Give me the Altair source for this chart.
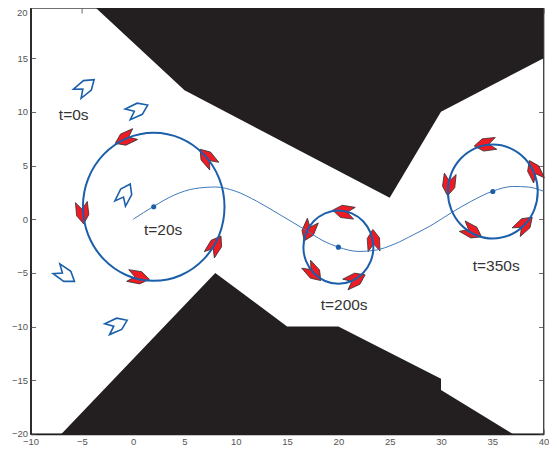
import altair as alt
import pandas as pd

X_DOM = [-10, 40]
Y_DOM = [-20, 19.67]
W, H = 513, 426
XT = [-10, -5, 0, 5, 10, 15, 20, 25, 30, 35, 40]
YT = [-20, -15, -10, -5, 0, 5, 10, 15]

top_x = [-4, 5, 25, 30, 40]
top_y = [20, 12, 2, 10, 15]
bot_x = [-7, 8, 15, 20, 30, 30, 37]
bot_y = [-20, -5, -10, -10, -14.85, -15.9, -20]

path_x = [0, 2, 4, 6, 8, 10, 12, 14.3, 16.8, 18.5, 20, 22, 23.5, 25.5, 27.3, 29, 31, 33, 35, 37, 38.5, 40]
path_y = [0, 1.2, 2.25, 2.85, 3.0, 2.6, 1.7, 0.42, -1, -2.0, -2.6, -3, -2.9, -2.3, -1.45, -0.6, 0.6, 1.7, 2.6, 3.05, 3.0, 2.6]

ring_cx = [2, 20, 35.05]
ring_cy = [1.16, -2.6, 2.58]
ring_r = [6.9, 3.41, 4.38]
unit_x = [1, .924, .707, .383, 0, -.383, -.707, -.924, -1, -.924, -.707, -.383, 0, .383, .707, .924]
unit_y = [0, .383, .707, .924, 1, .924, .707, .383, 0, -.383, -.707, -.924, -1, -.924, -.707, -.383]

blue_x = [-4.63, 0.44, -0.78, -6.6, -1.56]
blue_y = [12.34, 10.2, 2.37, -5.2, -9.82]
blue_a = [50, 65, 27, 125, 66]

red_x = [-0.78, 7.21, -4.94, 0.52, 7.99, 20.5, 23.42, 17.09, 17.57, 21.64, 34.3, 39.08, 30.77, 33.01, 38.11]
red_y = [7.5, 5.73, 0.58, -5.42, -2.44, 0.7, -1.97, -1.07, -4.95, -5.63, 6.94, 4.54, 3.21, -1.14, -0.51]
red_a = [245, 320, 174, 100, 32, 278, 357, 203, 138, 64, 263, 334, 187, 119, 47]

labels = ["t=0s", "t=20s", "t=200s", "t=350s"]
label_x = [-5.8, 2.92, 20.56, 35.38]
label_y = [9.73, -0.98, -7.96, -4.33]

ARROW = "M0,-0.5 L0.28,-0.1 L0.27,0.5 L0,0.17 L-0.27,0.5 L-0.28,-0.1 Z"
DARK = "#231f20"
BLUE = "#1b5faa"
ARROW_SIZE = 1936

xs = alt.Scale(domain=X_DOM, nice=False, zero=False)
ys = alt.Scale(domain=Y_DOM, nice=False, zero=False)


def X(f="x"):
    return alt.X(f, type="quantitative", scale=xs, axis=None)


def Y(f="y"):
    return alt.Y(f, type="quantitative", scale=ys, axis=None)


top_df = pd.DataFrame({"x": top_x, "y": top_y, "base": [20] * len(top_x)})
bot_df = pd.DataFrame({"x": bot_x, "y": bot_y, "base": [-20] * len(bot_x)})

top_area = alt.Chart(top_df).mark_area(color=DARK, clip=True, opacity=1).encode(
    x=X(), y=Y(), y2=alt.Y2("base"))
bot_area = alt.Chart(bot_df).mark_area(color=DARK, clip=True, opacity=1).encode(
    x=X(), y=Y(), y2=alt.Y2("base"))

path_df = pd.DataFrame({"x": path_x, "y": path_y, "o": list(range(len(path_x)))})
path_line = alt.Chart(path_df).mark_line(color="#3f78bb", strokeWidth=1, interpolate="monotone").encode(
    x=X(), y=Y(), order="o:Q")

rows = []
for i, (cx, cy, r) in enumerate(zip(ring_cx, ring_cy, ring_r)):
    for j, (ux, uy) in enumerate(zip(unit_x, unit_y)):
        rows.append({"x": cx + r * ux, "y": cy + r * uy, "ring": i, "o": j})
rings = alt.Chart(pd.DataFrame(rows)).mark_line(color=BLUE, strokeWidth=2, interpolate="cardinal-closed").encode(
    x=X(), y=Y(), detail="ring:N", order="o:Q")

centers = alt.Chart(pd.DataFrame({"x": ring_cx, "y": ring_cy})).mark_point(
    shape="circle", filled=True, color=BLUE, opacity=1, size=26).encode(x=X(), y=Y())

blue_df = pd.DataFrame({"x": blue_x, "y": blue_y, "a": blue_a})
blue = alt.Chart(blue_df).mark_point(shape=ARROW, size=ARROW_SIZE, fill="white", fillOpacity=1, stroke=BLUE,
                                     strokeOpacity=1, strokeWidth=1.6).encode(
    x=X(), y=Y(), angle=alt.Angle("a:Q", scale=None))

red_df = pd.DataFrame({"x": red_x, "y": red_y, "a": red_a})
red = alt.Chart(red_df).mark_point(shape=ARROW, size=ARROW_SIZE, fill="#ed1c24", fillOpacity=1, stroke="#3a3335",
                                   strokeOpacity=1, strokeWidth=0.8).encode(
    x=X(), y=Y(), angle=alt.Angle("a:Q", scale=None))

text_df = pd.DataFrame({"x": label_x, "y": label_y, "t": labels})
texts = alt.Chart(text_df).mark_text(font="Liberation Sans", fontSize=15.5, color="#333333").encode(
    x=X(), y=Y(), text="t:N")

top_label = alt.Chart(pd.DataFrame({"x": [-10], "y": [Y_DOM[1]], "t": ["20"]})).mark_text(
    font="Liberation Sans", fontSize=9.5, color="#555555", align="right", baseline="top", dx=-3, dy=0
).encode(x=X(), y=Y(), text="t:N")

main = alt.layer(top_area, bot_area, blue, red, path_line, rings, centers, texts, top_label)

tick = dict(grid=False, labels=False, title=None, tickSize=5, tickColor="#444444", tickWidth=0.8, domain=False)
lab = dict(labelFont="Liberation Sans", labelFontSize=9.5, labelColor="#555555", grid=False, title=None)
dummy = pd.DataFrame({"x": [0], "y": [0]})


def ind_scale(dom):
    return alt.Scale(domain=dom, nice=False, zero=False)


outer = alt.Chart(dummy).mark_point(opacity=0).encode(
    x=alt.X("x:Q", scale=ind_scale(X_DOM), title=None,
            axis=alt.Axis(orient="bottom", values=XT, ticks=False, labelPadding=3, domainColor=DARK,
                          domainWidth=1.6, labelOverlap=False, labelFlush=False, **lab)),
    y=alt.Y("y:Q", scale=ind_scale(Y_DOM), title=None,
            axis=alt.Axis(orient="left", values=YT, ticks=False, labelPadding=3, domainColor=DARK,
                          domainWidth=1.6, labelOverlap=False, labelFlush=False, **lab)))
inner_a = alt.Chart(dummy).mark_point(opacity=0).encode(
    x=alt.X("x:Q", scale=ind_scale(X_DOM), title=None,
            axis=alt.Axis(orient="top", offset=-H, values=XT, **tick)),
    y=alt.Y("y:Q", scale=ind_scale(Y_DOM), title=None,
            axis=alt.Axis(orient="right", offset=-W, values=YT, **tick)))
inner_b = alt.Chart(dummy).mark_point(opacity=0).encode(
    x=alt.X("x:Q", scale=ind_scale(X_DOM), title=None,
            axis=alt.Axis(orient="bottom", offset=-H, values=XT, **tick)),
    y=alt.Y("y:Q", scale=ind_scale(Y_DOM), title=None,
            axis=alt.Axis(orient="left", offset=-W, values=YT, **tick)))

chart = alt.layer(outer, inner_a, inner_b, main).resolve_scale(x="independent", y="independent").properties(
    width=W, height=H,
    padding={"left": 22.6, "top": 0, "right": 5, "bottom": 16},
    autosize=alt.AutoSizeParams(type="none"),
).configure_view(stroke="#444444", strokeWidth=1.4)

chart.save("out.html", embed_options={"renderer": "svg", "actions": False})
